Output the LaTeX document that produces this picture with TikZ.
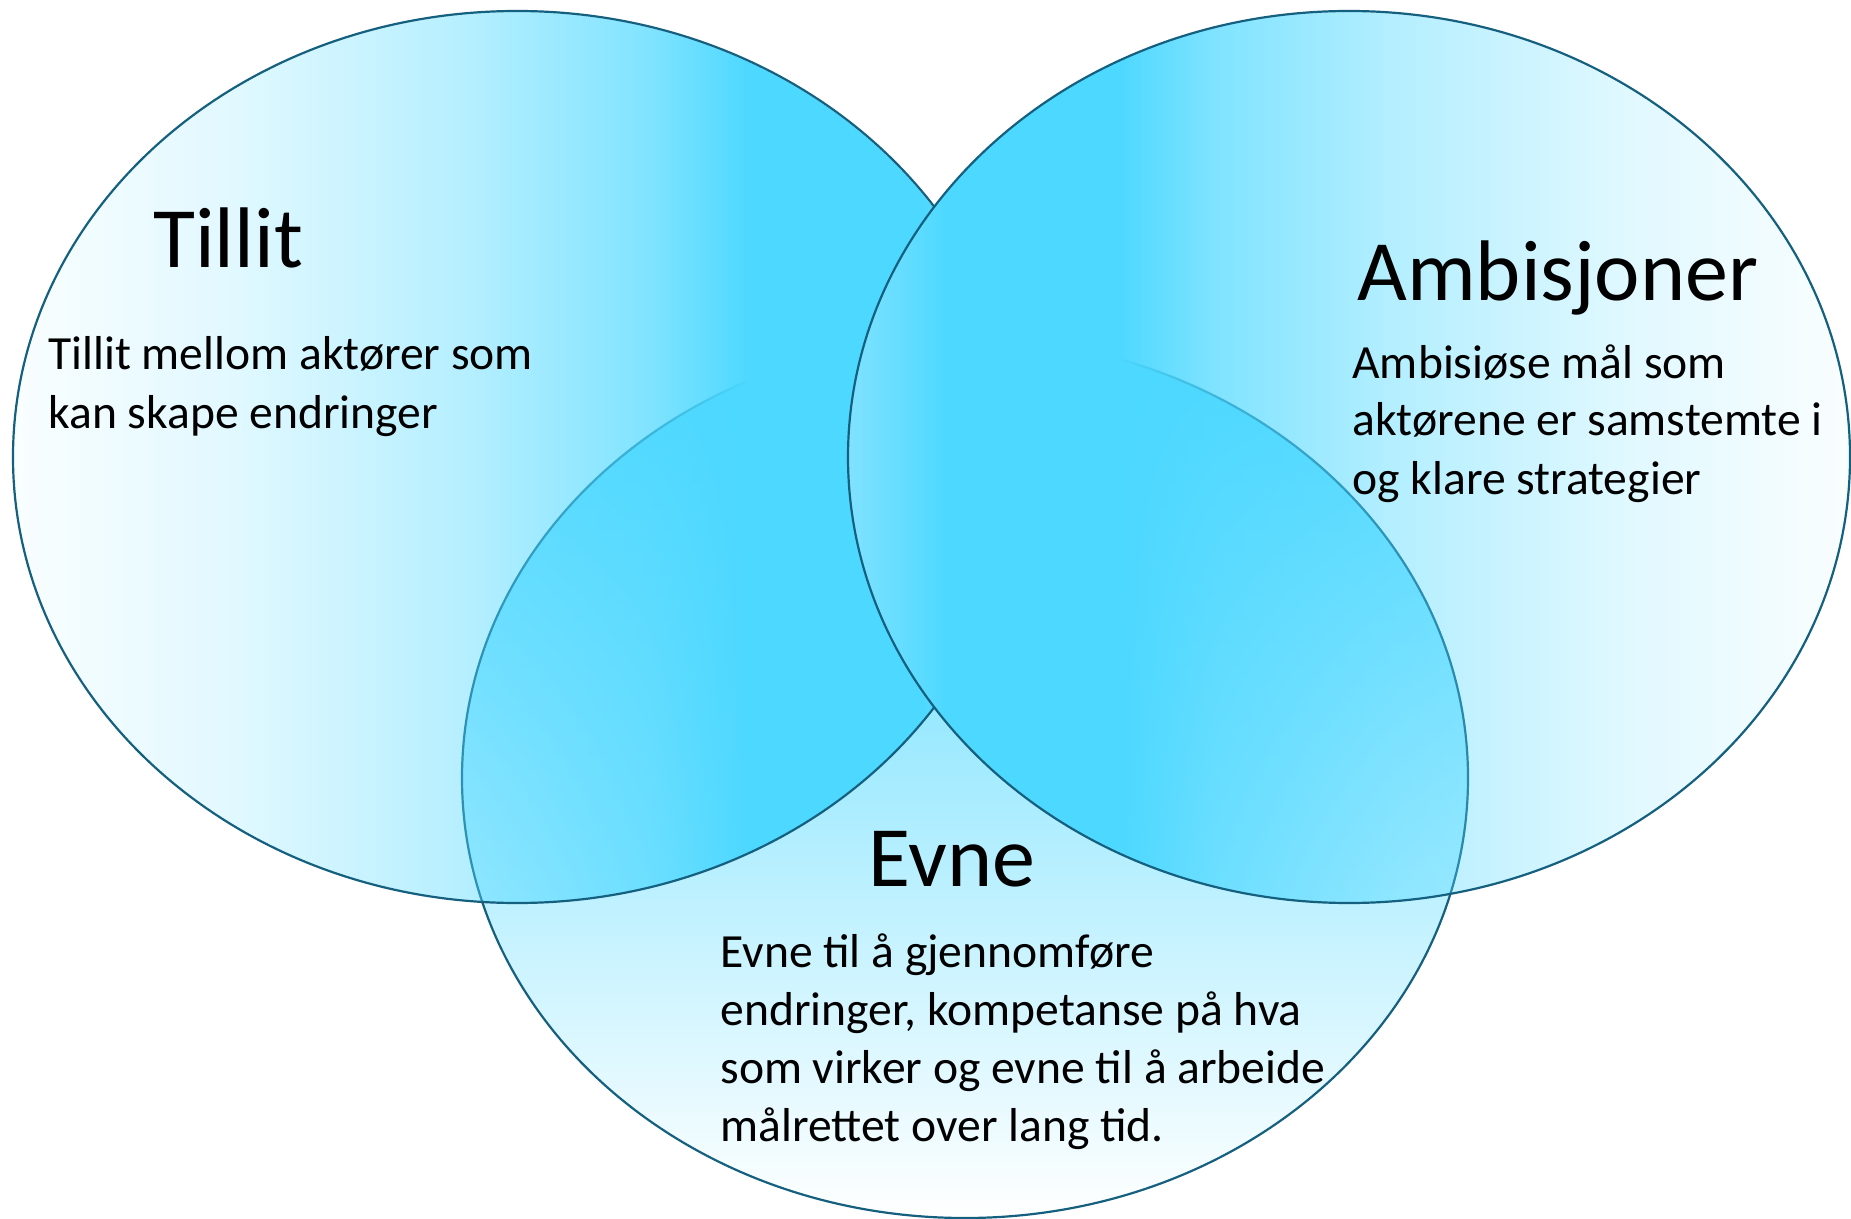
\documentclass[tikz,border=0pt]{standalone}
\usepackage{fontspec}
\setmainfont{Carlito}
\usetikzlibrary{fadings}

\definecolor{venncyan}{HTML}{4DD8FF}
\definecolor{vennpale}{HTML}{80E2FF}
\definecolor{vennedge}{HTML}{15607F}

% colour and transparency along each of the two upper ellipses
\pgfdeclarehorizontalshading{tillitshade}{100bp}{color(0bp)=(venncyan); color(70bp)=(venncyan); color(75bp)=(vennpale); color(100bp)=(vennpale)}
\pgfdeclarehorizontalshading{ambisjonshade}{100bp}{color(0bp)=(vennpale); color(25bp)=(vennpale); color(30bp)=(venncyan); color(100bp)=(venncyan)}
\pgfdeclarehorizontalshading{tillitalpha}{100bp}{color(0bp)=(black!97); color(25bp)=(black!97); color(36bp)=(black!83); color(47.75bp)=(black!58); color(56.5bp)=(black!29); color(61.5bp)=(white); color(100bp)=(white)}
\pgfdeclarehorizontalshading{ambisjonalpha}{100bp}{color(0bp)=(white); color(38.5bp)=(white); color(43.5bp)=(black!29); color(52.25bp)=(black!58); color(64bp)=(black!83); color(75bp)=(black!97); color(100bp)=(black!97)}
\pgfdeclarefading{tillitfade}{\pgfuseshading{tillitalpha}}
\pgfdeclarefading{ambisjonfade}{\pgfuseshading{ambisjonalpha}}

\tikzset{
  venn edge/.style={draw=vennedge, line width=1.1pt},
  vennhead/.style={anchor=base west, inner sep=0pt, font=\fontsize{43}{52}\selectfont},
  venntext/.style={anchor=base west, inner sep=0pt, align=left, font=\fontsize{23.8}{29}\selectfont}
}

\begin{document}
\begin{tikzpicture}[x=0.5pt, y=-0.5pt]
  \useasboundingbox (0,0) rectangle (1851,1219);

  % centres of the three sets
  \coordinate (tillit c) at (517,457);
  \coordinate (ambisjon c) at (1349,457);
  \coordinate (evne c) at (965,778);

  % Evne lies underneath
  \shade[top color=venncyan, bottom color=white] (evne c) ellipse [x radius=503, y radius=440];
  \draw[venn edge] (evne c) ellipse [x radius=503, y radius=440];

  % Tillit
  \path[shading=tillitshade, path fading=tillitfade] (tillit c) ellipse [x radius=504, y radius=446];
  \draw[venn edge] (tillit c) ellipse [x radius=504, y radius=446];

  % Ambisjoner on top
  \path[shading=ambisjonshade, path fading=ambisjonfade] (ambisjon c) ellipse [x radius=501, y radius=446];
  \draw[venn edge] (ambisjon c) ellipse [x radius=501, y radius=446];

  % labels (base = last line)
  \node[vennhead] (tillit head) at (153,268) {Tillit};
  \node[venntext] (tillit text) at (48,428) {Tillit mellom aktører som\\kan skape endringer};

  \node[vennhead] (ambisjon head) at (1357,301) {Ambisjoner};
  \node[venntext] (ambisjon text) at (1352,494) {Ambisiøse mål som\\aktørene er samstemte i\\og klare strategier};

  \node[vennhead] (evne head) at (868,886) {Evne};
  \node[venntext] (evne text) at (720,1141) {Evne til å gjennomføre\\endringer, kompetanse på hva\\som virker og evne til å arbeide\\målrettet over lang tid.};
\end{tikzpicture}
\end{document}
